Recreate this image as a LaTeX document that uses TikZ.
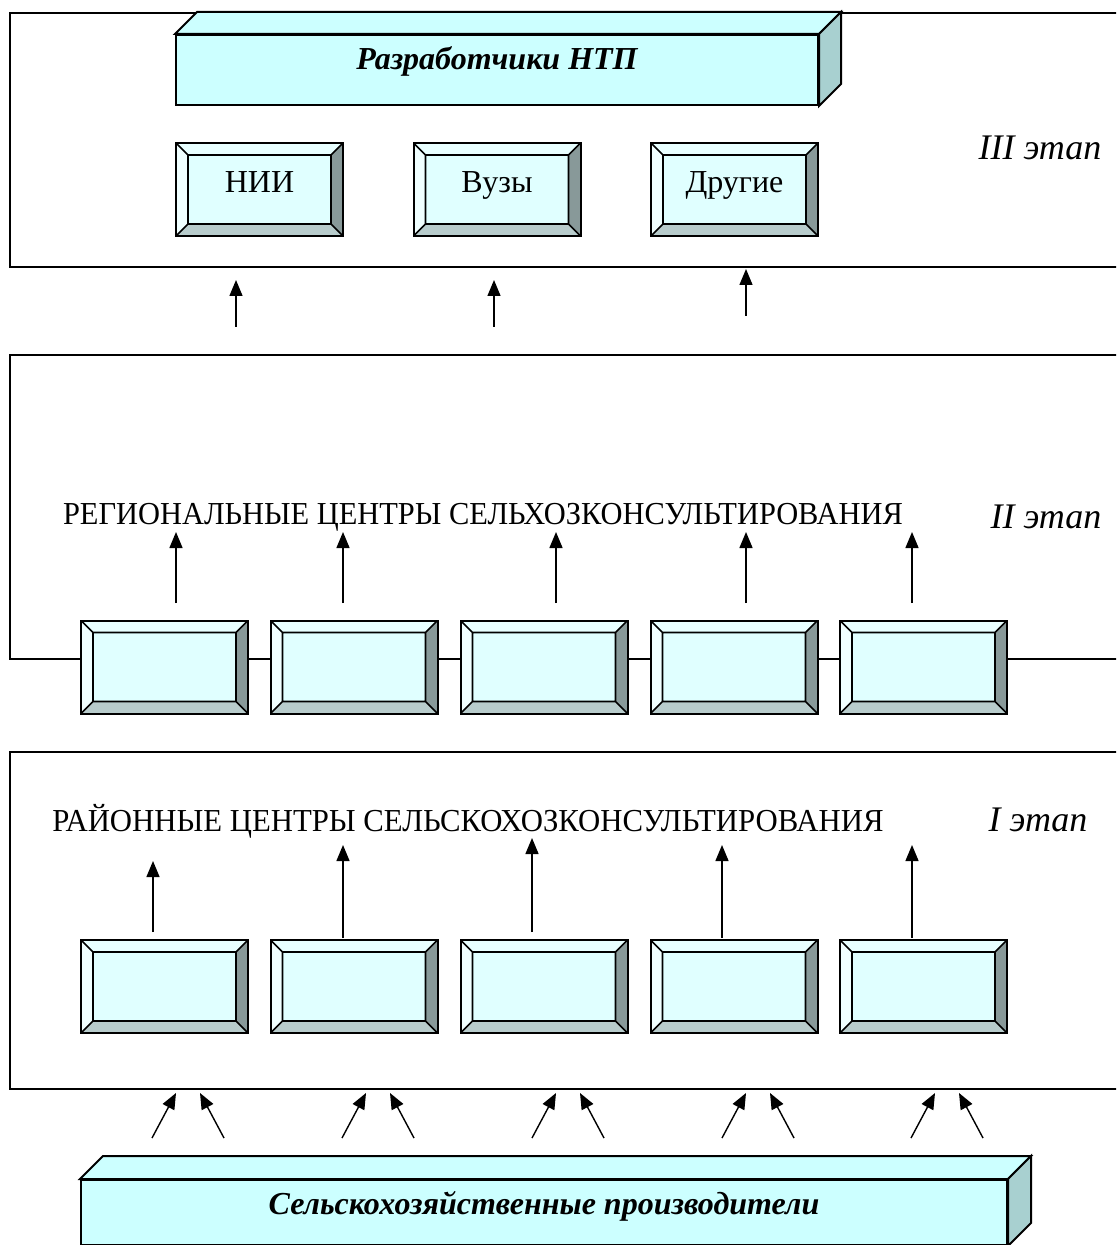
\documentclass[tikz,border=0pt]{standalone}
\usepackage{fontspec}
\setmainfont{Liberation Serif}
\usetikzlibrary{arrows.meta,positioning}
\definecolor{frontc}{HTML}{CCFFFF}
\definecolor{sidec}{HTML}{A8D0D0}
\definecolor{facec}{HTML}{E0FFFF}
\definecolor{bvtop}{HTML}{E8FFFF}
\definecolor{bvleft}{HTML}{F0FFFF}
\definecolor{bvright}{HTML}{889999}
\definecolor{bvbot}{HTML}{B8CCCC}
\tikzset{
  ar/.style={-{Triangle[length=8pt,width=6.5pt]},line width=0.7pt},
  panel/.style={line width=1pt},
  front/.style={draw,line width=1pt,fill=frontc,inner sep=0pt,text height=12pt,
    font=\fontsize{16}{18}\selectfont\bfseries\itshape},
  bevelbox/.style={draw,line width=1pt,fill=facec,minimum width=83.5pt,minimum height=46.5pt,
    inner sep=0pt,text height=11pt,text depth=7.5pt,font=\fontsize{16}{18}\selectfont,
    path picture={
      \coordinate (q1) at (path picture bounding box.north west);
      \coordinate (q2) at (path picture bounding box.north east);
      \coordinate (q3) at (path picture bounding box.south east);
      \coordinate (q4) at (path picture bounding box.south west);
      \coordinate (i1) at ([shift={(6pt,-6pt)}]q1);
      \coordinate (i2) at ([shift={(-6pt,-6pt)}]q2);
      \coordinate (i3) at ([shift={(-6pt,6pt)}]q3);
      \coordinate (i4) at ([shift={(6pt,6pt)}]q4);
      \fill[bvtop] (q1)--(q2)--(i2)--(i1)--cycle;
      \fill[bvleft] (q1)--(q4)--(i4)--(i1)--cycle;
      \fill[bvright] (q2)--(q3)--(i3)--(i2)--cycle;
      \fill[bvbot] (q4)--(q3)--(i3)--(i4)--cycle;
      \draw[line width=0.8pt] (i1) rectangle (i3) (q1)--(i1) (q2)--(i2) (q3)--(i3) (q4)--(i4);
    }},
  stage/.style={font=\fontsize{18}{20}\selectfont\itshape},
  lvl/.style={font=\fontsize{16}{18}\selectfont}
}
\begin{document}
\begin{tikzpicture}[x=0.5pt,y=-0.5pt]
\useasboundingbox (0,0) rectangle (1116,1245);
\clip (0,0) rectangle (1116,1245);

% stage panels
\draw[panel] (1125,13) -- (10,13) -- (10,267) -- (1125,267);
\draw[panel] (1125,355) -- (10,355) -- (10,659) -- (1125,659);
\draw[panel] (1125,752) -- (10,752) -- (10,1089) -- (1125,1089);

% III stage
\node[front,minimum width=321pt,minimum height=35pt,text depth=12pt] (dev) at (497,70) {Разработчики НТП};
\draw[line width=1pt,fill=frontc] (dev.north west) -- ++(11pt,11pt) -- ([shift={(11pt,11pt)}]dev.north east) -- (dev.north east) -- cycle;
\draw[line width=1pt,fill=sidec] (dev.north east) -- ++(11pt,11pt) -- ([shift={(11pt,11pt)}]dev.south east) -- (dev.south east) -- cycle;
\node[bevelbox] (nii) at (259.5,189.5) {НИИ};
\node[bevelbox] (vuz) at (497,189.5) {Вузы};
\node[bevelbox] (oth) at (734.5,189.5) {Другие};
\node[stage] (st3) at (1040,148) {III этап};

\foreach \x/\a/\b [count=\i] in {236/327/280,494/327/280,746/316/269}{
  \coordinate (ua\i) at (\x,\a);
  \coordinate (ub\i) at (\x,\b);
  \draw[ar] (ua\i) -- (ub\i);
}

% II stage
\node[lvl] (regtxt) at (483,517) {\scalebox{0.951}[1]{РЕГИОНАЛЬНЫЕ ЦЕНТРЫ СЕЛЬХОЗКОНСУЛЬТИРОВАНИЯ}};
\node[stage] (st2) at (1046,517) {II этап};
\foreach \x [count=\i] in {164.5,354,544,734,923.5}
  \node[bevelbox] (r\i) at (\x,667) {};
\foreach \x [count=\i] in {176,343,556,746,912}{
  \coordinate (ra\i) at (\x,603);
  \coordinate (rb\i) at (\x,532);
  \draw[ar] (ra\i) -- (rb\i);
}

% I stage
\node[lvl] (raytxt) at (468,821) {\scalebox{0.961}[1]{РАЙОННЫЕ ЦЕНТРЫ СЕЛЬСКОХОЗКОНСУЛЬТИРОВАНИЯ}};
\node[stage] (st1) at (1038,820) {I этап};
\foreach \x [count=\i] in {164.5,354,544,734,923.5}
  \node[bevelbox] (d\i) at (\x,986.5) {};
\foreach \x/\a/\b [count=\i] in {153/932/861,343/938/845,532/932/838,722/938/845,912/938/845}{
  \coordinate (da\i) at (\x,\a);
  \coordinate (db\i) at (\x,\b);
  \draw[ar] (da\i) -- (db\i);
}

% producers
\node[front,minimum width=463pt,minimum height=32.5pt,text depth=10pt] (prod) at (544,1212.5) {Сельскохозяйственные производители};
\draw[line width=1pt,fill=frontc] (prod.north west) -- ++(11.5pt,11.5pt) -- ([shift={(11.5pt,11.5pt)}]prod.north east) -- (prod.north east) -- cycle;
\draw[line width=1pt,fill=sidec] (prod.north east) -- ++(11.5pt,11.5pt) -- ([shift={(11.5pt,11.5pt)}]prod.south east) -- (prod.south east) -- cycle;
\foreach \c [count=\i] in {188,378,568,758,947}{
  \coordinate (pl\i) at (\c-36,1138);
  \coordinate (pm\i) at (\c-12,1093);
  \coordinate (pr\i) at (\c+36,1138);
  \coordinate (pn\i) at (\c+12,1093);
  \draw[ar] (pl\i) -- (pm\i);
  \draw[ar] (pr\i) -- (pn\i);
}
\end{tikzpicture}
\end{document}
